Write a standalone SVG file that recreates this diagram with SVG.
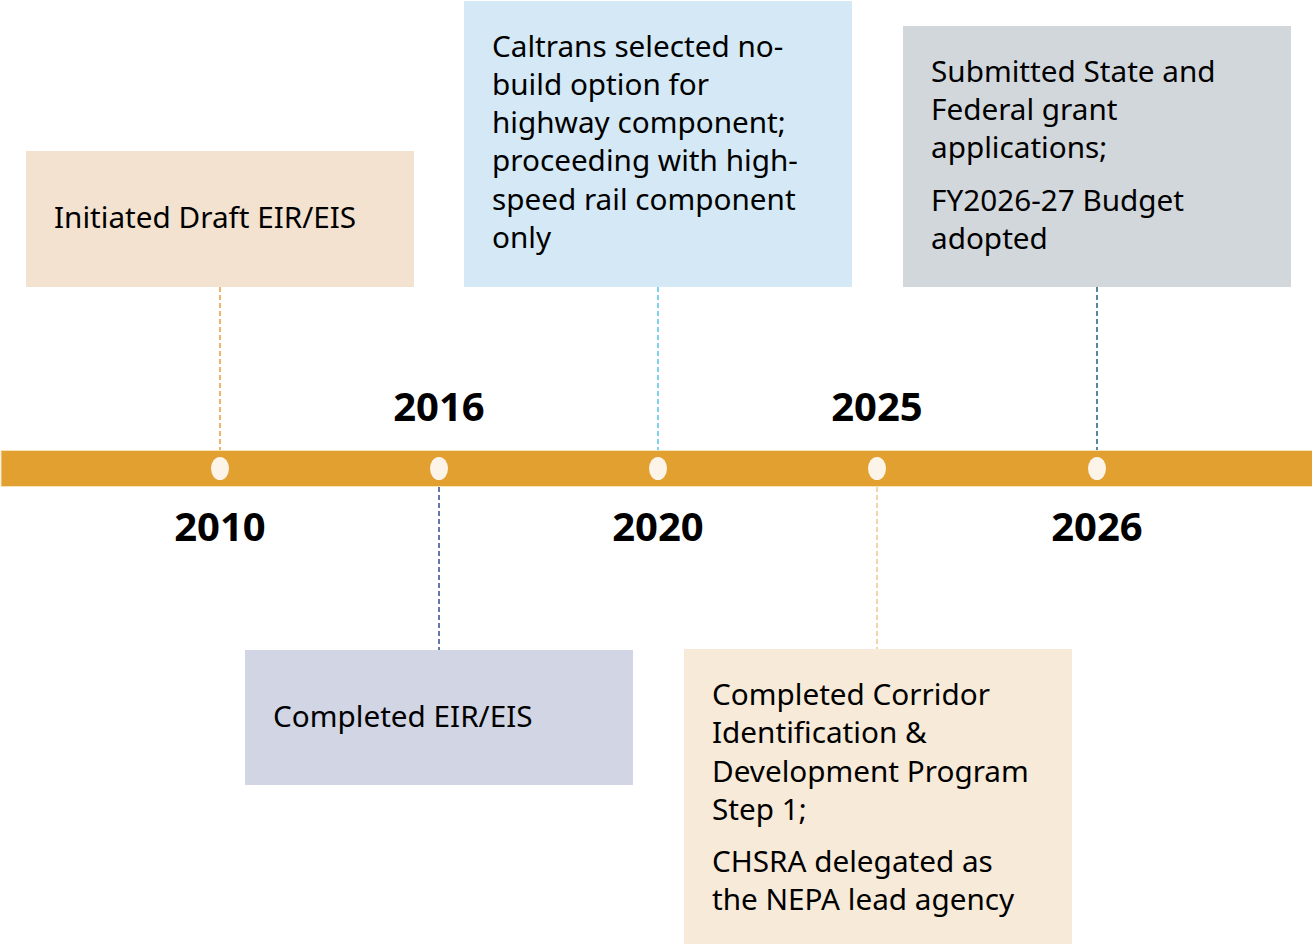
<svg xmlns="http://www.w3.org/2000/svg" width="1312" height="944" viewBox="0 0 1312 944">
<style>
.t{font-family:"Noto Sans","Open Sans","Liberation Sans",sans-serif;font-size:29.7px;fill:#000}
.y{font-family:"Noto Sans","Open Sans","Liberation Sans",sans-serif;font-size:40px;font-weight:bold;fill:#000;text-anchor:middle}
.d{stroke-width:1.5;stroke-dasharray:5,3;fill:none}
.dot{fill:#FCF4E8}
</style>
<rect width="1312" height="944" fill="#FFFFFF"/>
<g id="connectors">
<line class="d" x1="220" y1="287" x2="220" y2="451" stroke="#E8A030"/>
<line class="d" x1="439" y1="487" x2="439" y2="650" stroke="#2E4D8F"/>
<line class="d" x1="658" y1="287" x2="658" y2="451" stroke="#5BC0EB"/>
<line class="d" x1="877" y1="487" x2="877" y2="650" stroke="#F0C890"/>
<line class="d" x1="1097" y1="287" x2="1097" y2="451" stroke="#1F5F80"/>
</g>
<g id="timeline">
<rect x="1" y="450.5" width="1312" height="36" fill="#E1A030" stroke="#F5E2B8" stroke-width="1"/>
<ellipse class="dot" cx="220" cy="468.5" rx="9" ry="11.5"/>
<ellipse class="dot" cx="439" cy="468.5" rx="9" ry="11.5"/>
<ellipse class="dot" cx="658" cy="468.5" rx="9" ry="11.5"/>
<ellipse class="dot" cx="877" cy="468.5" rx="9" ry="11.5"/>
<ellipse class="dot" cx="1097" cy="468.5" rx="9" ry="11.5"/>
</g>
<g id="years">
<text class="y" x="439" y="421">2016</text>
<text class="y" x="877" y="421">2025</text>
<text class="y" x="220" y="541">2010</text>
<text class="y" x="658" y="541">2020</text>
<text class="y" x="1097" y="541">2026</text>
</g>
<g id="node2010">
<rect x="26" y="151" width="388" height="136" fill="#F4E2D1"/>
<text class="t" x="54" y="228">Initiated Draft EIR/EIS</text>
</g>
<g id="node2016">
<rect x="245" y="650" width="388" height="135" fill="#D1D5E4"/>
<text class="t" x="273" y="727">Completed EIR/EIS</text>
</g>
<g id="node2020">
<rect x="464" y="1" width="388" height="286" fill="#D4E9F5"/>
<text class="t" x="492" y="57">Caltrans selected no-</text>
<text class="t" x="492" y="95">build option for</text>
<text class="t" x="492" y="133">highway component;</text>
<text class="t" x="492" y="171">proceeding with high-</text>
<text class="t" x="492" y="210">speed rail component</text>
<text class="t" x="492" y="248">only</text>
</g>
<g id="node2025">
<rect x="684" y="649" width="388" height="295" fill="#F7EAD8"/>
<text class="t" x="712" y="705">Completed Corridor</text>
<text class="t" x="712" y="743">Identification &amp;</text>
<text class="t" x="712" y="782">Development Program</text>
<text class="t" x="712" y="820">Step 1;</text>
<text class="t" x="712" y="872">CHSRA delegated as</text>
<text class="t" x="712" y="910">the NEPA lead agency</text>
</g>
<g id="node2026">
<rect x="903" y="26" width="388" height="261" fill="#D2D7DC"/>
<text class="t" x="931" y="82">Submitted State and</text>
<text class="t" x="931" y="120">Federal grant</text>
<text class="t" x="931" y="158">applications;</text>
<text class="t" x="931" y="211">FY2026-27 Budget</text>
<text class="t" x="931" y="249">adopted</text>
</g>
</svg>
